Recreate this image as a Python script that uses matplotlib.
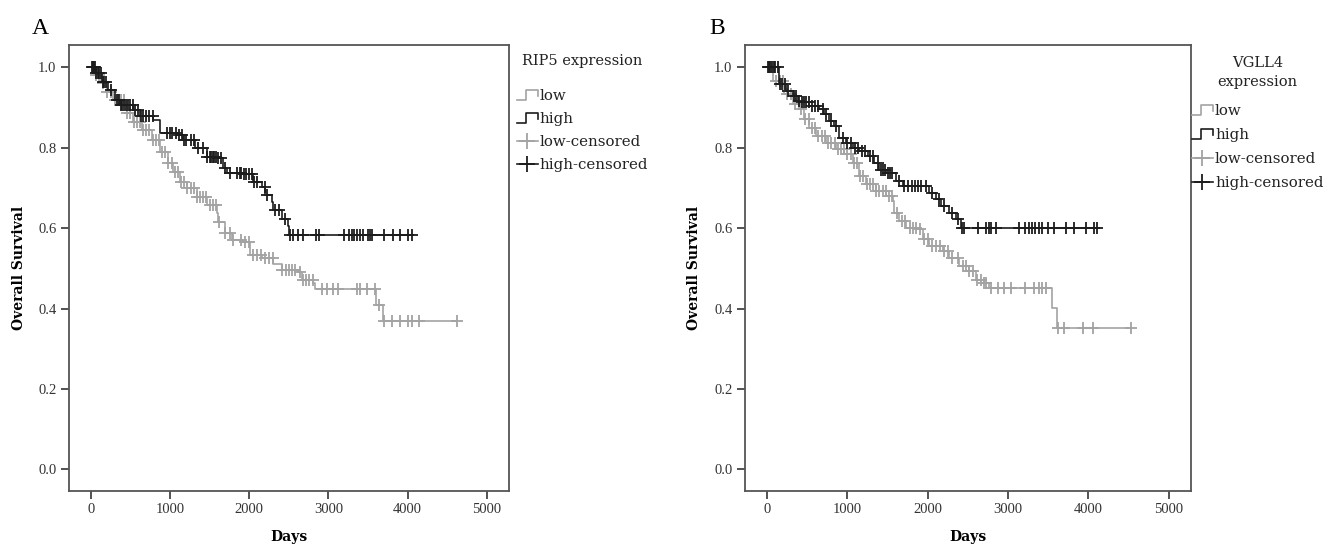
import matplotlib
matplotlib.use("Agg")
import matplotlib.pyplot as plt
import numpy as np
from matplotlib.lines import Line2D
from matplotlib.legend_handler import HandlerBase

plt.rcParams["font.family"] = ["Liberation Serif", "DejaVu Serif"]

# ---- panel A : RIP5 ----
a_low_t = [0, 60, 130, 200, 285, 455, 538, 644, 770, 875, 980, 1043, 1128, 1212, 1339, 1465, 1591, 1612, 1696,
           1781, 1927, 2012, 2160, 2306, 2412, 2622, 2665, 2811, 2833, 3603, 3688]
a_low_s = [1.0, 0.982, 0.962, 0.940, 0.919, 0.886, 0.865, 0.844, 0.819, 0.790, 0.761, 0.740, 0.715, 0.699,
           0.678, 0.657, 0.637, 0.616, 0.587, 0.570, 0.566, 0.533, 0.525, 0.511, 0.496, 0.492, 0.471, 0.463,
           0.450, 0.410, 0.370]
a_low_cens = [60, 100, 150, 200, 260, 300, 340, 380, 420, 460, 500, 540, 580, 620, 660, 700, 740, 780,
              820, 860, 900, 940, 980, 1020, 1060, 1100, 1140, 1180, 1220, 1260, 1300, 1340, 1380, 1420,
              1460, 1500, 1540, 1580, 1620, 1700, 1760, 1800, 1900, 1950, 2000, 2050, 2100, 2150, 2200,
              2250, 2300, 2420, 2460, 2500, 2540, 2580, 2640, 2680, 2720, 2760, 2800,
              2918, 2981, 3064, 3127, 3360, 3401, 3486, 3591, 3645, 3696, 3802, 3907, 4011, 4054, 4138, 4620]

a_high_t = [0, 60, 139, 222, 307, 370, 538, 623, 791, 875, 1086, 1170, 1317, 1465, 1591, 1675, 1718, 1927,
            2054, 2160, 2201, 2286, 2306, 2412, 2496, 2508]
a_high_s = [1.0, 0.985, 0.964, 0.944, 0.919, 0.906, 0.894, 0.879, 0.869, 0.836, 0.832, 0.819, 0.799, 0.778,
            0.774, 0.749, 0.738, 0.736, 0.715, 0.703, 0.682, 0.666, 0.645, 0.624, 0.605, 0.583]
a_high_cens = [15, 25, 35, 50, 70, 90, 110, 130, 150, 170, 190, 250, 330, 360, 380, 400, 420, 440, 470,
               500, 530, 560, 600, 640, 660, 700, 740, 780, 960, 1000, 1030, 1080, 1120, 1150, 1180, 1200,
               1260, 1300, 1350, 1420, 1470, 1500, 1520, 1540, 1560, 1580, 1600, 1640, 1700, 1760, 1850,
               1880, 1900, 1930, 1960, 2000, 2030, 2060, 2100, 2200, 2230, 2330, 2380, 2450,
               2510, 2551, 2614, 2673, 2842, 2883, 3199, 3266, 3296, 3329, 3360, 3393, 3443, 3494, 3519,
               3549, 3708, 3814, 3906, 4011, 4060]

# ---- panel B : VGLL4 ----
b_low_t = [0, 70, 215, 319, 402, 464, 527, 610, 734, 859, 962, 1066, 1149, 1233, 1357, 1482, 1564, 1585,
           1647, 1731, 1875, 1937, 2021, 2187, 2270, 2395, 2519, 2602, 2700, 2768, 3548, 3606]
b_low_s = [1.0, 0.967, 0.933, 0.908, 0.896, 0.871, 0.850, 0.829, 0.813, 0.796, 0.784, 0.763, 0.730,
           0.709, 0.692, 0.680, 0.667, 0.638, 0.617, 0.601, 0.597, 0.572, 0.555, 0.543, 0.526, 0.505,
           0.493, 0.472, 0.464, 0.451, 0.401, 0.352]
b_low_cens = [50, 110, 160, 200, 250, 300, 350, 420, 470, 520, 560, 600, 640, 680, 720, 760, 800, 840,
              880, 920, 960, 1000, 1040, 1080, 1120, 1160, 1200, 1240, 1280, 1320, 1360, 1400, 1440, 1480,
              1520, 1560, 1620, 1680, 1720, 1780, 1820, 1860, 1900, 1960, 2000, 2050, 2100, 2150, 2200,
              2250, 2300, 2380, 2440, 2480, 2520, 2560, 2620, 2660, 2700, 2730,
              2789, 2871, 2954, 3038, 3216, 3328, 3382, 3424, 3474, 3618, 3701, 3929, 4054, 4532]

b_high_t = [0, 153, 237, 319, 381, 402, 527, 651, 713, 776, 838, 900, 984, 1066, 1149, 1253, 1336, 1398,
            1482, 1606, 1688, 2021, 2104, 2166, 2270, 2353, 2415]
b_high_s = [1.0, 0.958, 0.942, 0.929, 0.917, 0.913, 0.904, 0.896, 0.884, 0.867, 0.854, 0.825, 0.813,
            0.800, 0.792, 0.780, 0.763, 0.746, 0.738, 0.717, 0.705, 0.688, 0.672, 0.655, 0.638, 0.622, 0.600]
b_high_cens = [10, 25, 40, 60, 80, 100, 130, 160, 190, 220, 260, 330, 360, 400, 430, 460, 490, 520, 560,
               600, 640, 700, 740, 800, 860, 940, 1000, 1040, 1100, 1130, 1180, 1220, 1280, 1320, 1380,
               1420, 1450, 1470, 1500, 1530, 1560, 1640, 1700, 1760, 1800, 1840, 1880, 1920, 1980, 2060,
               2140, 2200, 2300, 2380,
               2428, 2456, 2622, 2727, 2759, 2789, 2851, 3141, 3216, 3257, 3299, 3340, 3382, 3424, 3494,
               3577, 3723, 3826, 3972, 4075, 4110]

low_color = "#a3a3a3"
high_color = "#1c1c1c"


class StepHandler(HandlerBase):
    def create_artists(self, legend, orig_handle, xdescent, ydescent, width, height, fontsize, trans):
        x = np.array([0, 0.45, 0.45, 1, 1]) * width - xdescent
        y = np.array([0.05, 0.05, 0.95, 0.95, 0.4]) * height - ydescent
        return [Line2D(x, y, color=orig_handle.get_color(), lw=orig_handle.get_linewidth(), transform=trans)]


def surv_at(t, times, surv):
    idx = np.searchsorted(times, t, side="right") - 1
    return np.asarray(surv)[idx]


def km_panel(ax, low_t, low_s, low_c, high_t, high_s, high_c, title, title_gap, spacing, axpad, top):
    for t, s, c, col in [(low_t, low_s, low_c, low_color), (high_t, high_s, high_c, high_color)]:
        tt = list(t) + [max(c)]
        ss = list(s) + [s[-1]]
        ax.step(tt, ss, where="post", color=col, lw=1.2)
        ax.plot(c, surv_at(c, t, s), ls="none", marker="+", ms=8, mew=1.3, color=col)

    ax.set_xlim(-275, 5280)
    ax.set_ylim(-0.053, 1.057)
    ax.set_xticks(np.arange(0, 5001, 1000))
    ax.set_yticks(np.arange(0, 1.01, 0.2))
    ax.set_yticklabels(["%.1f" % v for v in np.arange(0, 1.01, 0.2)])
    ax.tick_params(direction="out", length=6, width=1.3, color="#444444", labelsize=10.5,
                   labelcolor="#333333", pad=3)
    for sp in ax.spines.values():
        sp.set_color("#555555")
        sp.set_linewidth(1.3)
    ax.set_xlabel("Days", fontsize=10, fontweight="bold", family="DejaVu Serif")
    ax.set_ylabel("Overall Survival", fontsize=10, fontweight="bold", family="DejaVu Serif")
    ax.xaxis.set_label_coords(0.5, -0.088)
    ax.yaxis.set_label_coords(-0.098, 0.5)

    h = [Line2D([], [], color=low_color, lw=1.2), Line2D([], [], color=high_color, lw=1.2),
         Line2D([], [], color=low_color, lw=1.2, marker="+", ms=12, mew=1.3),
         Line2D([], [], color=high_color, lw=1.2, marker="+", ms=12, mew=1.3)]
    leg = ax.legend(h, ["low", "high", "low-censored", "high-censored"], title=title,
                    loc="upper left", bbox_to_anchor=(1.0, top), frameon=False,
                    prop={"family": "DejaVu Serif", "size": 10.8},
                    title_fontproperties={"family": "DejaVu Serif", "size": 10.5},
                    handlelength=1.4, handletextpad=0.15, labelspacing=spacing,
                    borderpad=0, borderaxespad=axpad, alignment="center",
                    handler_map={h[0]: StepHandler(), h[1]: StepHandler()})
    leg._legend_box.sep = title_gap
    leg.get_title().set_multialignment("center")
    leg.get_title().set_linespacing(1.5)
    leg.get_title().set_color("#222222")
    for txt in leg.get_texts():
        txt.set_color("#222222")


fig = plt.figure(figsize=(13.28, 5.48), dpi=100)
axA = fig.add_axes([69 / 1328, 57.3 / 548, 440 / 1328, 446.2 / 548])
axB = fig.add_axes([745 / 1328, 57.3 / 548, 446 / 1328, 446.2 / 548])

km_panel(axA, a_low_t, a_low_s, a_low_cens, a_high_t, a_high_s, a_high_cens,
         "RIP5 expression", 15, 0.6, 0.5, 0.995)
km_panel(axB, b_low_t, b_low_s, b_low_cens, b_high_t, b_high_s, b_high_cens,
         "VGLL4\nexpression", 11, 0.66, 0.05, 0.977)

fig.text(40 / 1328, 1 - 29 / 548, "A", fontsize=17, ha="center", va="center")
fig.text(717 / 1328, 1 - 29 / 548, "B", fontsize=17, ha="center", va="center")

fig.savefig("out.png", dpi=100)
